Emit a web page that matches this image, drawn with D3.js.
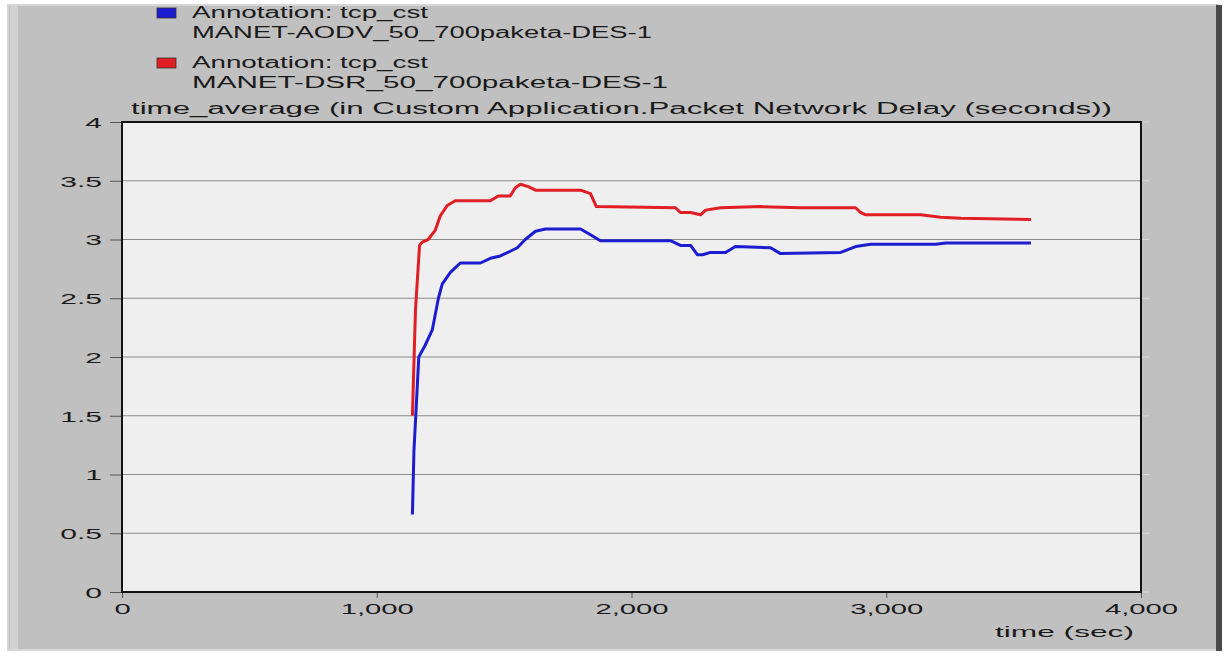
<!doctype html>
<html>
<head>
<script src="https://d3js.org/d3.v7.min.js"></script>
<style>
body { margin:0; background:#fff; }
text { font-family:"Liberation Sans", Arial, sans-serif; fill:#1a1a1a; }
</style>
</head>
<body>
<script>
var width = 1224, height = 659;
var plot = {left:122, right:1141, top:122, bottom:592};

// data: [time (sec), delay (s)]
var aodvSeries = [[1140,0.66],[1146,1.2],[1165,2.0],[1190,2.1],[1218,2.23],[1242,2.5],[1257,2.62],[1289,2.72],
	[1328,2.8],[1407,2.8],[1446,2.84],[1485,2.86],[1524,2.9],[1552,2.93],[1583,3.0],[1623,3.07],[1662,3.09],
	[1800,3.09],[1839,3.04],[1878,2.99],[2153,2.99],[2192,2.95],[2232,2.95],[2259,2.87],[2279,2.87],[2310,2.89],
	[2369,2.89],[2408,2.94],[2546,2.93],[2585,2.88],[2821,2.89],[2880,2.94],[2939,2.96],[3194,2.96],[3234,2.97],[3568,2.97]];
var dsrSeries = [[1140,1.5],[1152,2.4],[1168,2.95],[1180,2.98],[1202,3.0],[1230,3.08],[1249,3.2],[1277,3.29],
	[1308,3.33],[1446,3.33],[1477,3.37],[1524,3.37],[1544,3.44],[1564,3.47],[1595,3.45],[1623,3.42],[1800,3.42],
	[1839,3.39],[1862,3.28],[2173,3.27],[2192,3.23],[2232,3.23],[2271,3.21],[2291,3.25],[2350,3.27],[2507,3.28],
	[2664,3.27],[2880,3.27],[2899,3.23],[2919,3.21],[3135,3.21],[3214,3.19],[3293,3.18],[3568,3.17]];
var yTicks = [0,0.5,1,1.5,2,2.5,3,3.5,4];
var xTicks = [0,1000,2000,3000,4000];
var legendNames = ['MANET-AODV_50_700paketa-DES-1','MANET-DSR_50_700paketa-DES-1'];
var legendColors = ['#1c1cd0','#e01e24'];
var chartTitle = 'time_average (in Custom Application.Packet Network Delay (seconds))';

var svg = d3.select('body').append('svg').attr('width',width).attr('height',height);

// the screenshot is stretched sideways, so texts get widened
function stretch(sel,k) {
	sel.each(function() {
		var w = this.getComputedTextLength();
		d3.select(this).attr('textLength',w*k).attr('lengthAdjust','spacingAndGlyphs');
	});
}

// window frame
svg.append('rect').attr('x',8).attr('y',5).attr('width',1210).attr('height',645)
	.style('fill','#c0c0c0').style('stroke','#d6d6d6').style('stroke-width',2);
svg.append('rect').attr('x',10).attr('y',6).attr('width',8).attr('height',643).style('fill','#d2d2d2');
svg.append('rect').attr('x',1216).attr('y',5).attr('width',6).attr('height',646).style('fill','#4a4a4a');

var xScale = d3.scaleLinear().domain([0,4000]).range([plot.left,plot.right]);
var yScale = d3.scaleLinear().domain([0,4]).range([plot.bottom,plot.top]);

svg.append('rect').attr('x',plot.left).attr('y',plot.top)
	.attr('width',plot.right-plot.left).attr('height',plot.bottom-plot.top).style('fill','#efefef');

// horizontal grid
svg.append('g').selectAll('line').data(yTicks.slice(1,-1)).enter().append('line')
	.attr('x1',plot.left).attr('x2',plot.right)
	.attr('y1',function(d){return yScale(d);}).attr('y2',function(d){return yScale(d);})
	.style('stroke','#8c8c8c').style('stroke-width',1.2);

// left axis
var yAxis = d3.axisLeft(yScale).tickValues(yTicks).tickSize(12).tickPadding(8).tickFormat(d3.format(''));
var yG = svg.append('g').attr('transform','translate('+plot.left+',0)').call(yAxis);
yG.select('.domain').remove();
yG.selectAll('line').style('stroke','#555');
yG.selectAll('text').style('font-size','15px').attr('dy','0.35em').call(stretch,2.0);

// faint ticks on the right
svg.append('g').selectAll('line').data(yTicks).enter().append('line')
	.attr('x1',plot.right).attr('x2',plot.right+8)
	.attr('y1',function(d){return yScale(d);}).attr('y2',function(d){return yScale(d);})
	.style('stroke','#dadada');

// bottom axis
var xAxis = d3.axisBottom(xScale).tickValues(xTicks).tickSize(6).tickPadding(5).tickFormat(d3.format(','));
var xG = svg.append('g').attr('transform','translate(0,'+plot.bottom+')').call(xAxis);
xG.select('.domain').remove();
xG.selectAll('line').style('stroke','#555');
xG.selectAll('text').style('font-size','15px').call(stretch,1.95);

// plot border
svg.append('rect').attr('x',plot.left).attr('y',plot.top)
	.attr('width',plot.right-plot.left).attr('height',plot.bottom-plot.top)
	.style('fill','none').style('stroke','#111').style('stroke-width',2);

// lines
var line = d3.line().x(function(d){return xScale(d[0]);}).y(function(d){return yScale(d[1]);});
[aodvSeries,dsrSeries].forEach(function(s,i) {
	svg.append('path').attr('d',line(s)).style('fill','none')
		.style('stroke',legendColors[i]).style('stroke-width',3).style('stroke-linejoin','round');
});

// legend
var legendRows = [[18,38],[68,88]];
var nameWidths = [460,476];
legendNames.forEach(function(name,i) {
	var y = legendRows[i][0];
	svg.append('rect').attr('x',157).attr('y',y-10).attr('width',19).attr('height',10)
		.style('fill',legendColors[i]).style('stroke','#333').style('stroke-width',0.8);
	svg.append('text').attr('x',192).attr('y',y).style('font-size','16px')
		.attr('textLength',236).attr('lengthAdjust','spacingAndGlyphs').text('Annotation: tcp_cst');
	svg.append('text').attr('x',192).attr('y',legendRows[i][1]).style('font-size','16px')
		.attr('textLength',nameWidths[i]).attr('lengthAdjust','spacingAndGlyphs').text(name);
});

// title and axis name
svg.append('text').attr('x',131).attr('y',114).style('font-size','16px')
	.attr('textLength',981).attr('lengthAdjust','spacingAndGlyphs').text(chartTitle);
svg.append('text').attr('x',995).attr('y',637).style('font-size','15px')
	.attr('textLength',139).attr('lengthAdjust','spacingAndGlyphs').text('time (sec)');
</script>
</body>
</html>
